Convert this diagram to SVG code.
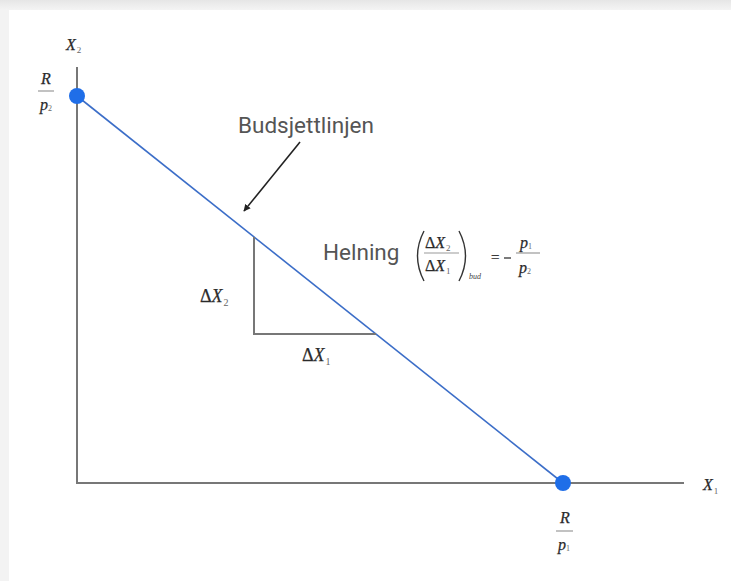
<svg xmlns="http://www.w3.org/2000/svg" width="731" height="581" viewBox="0 0 731 581">
<defs>
<linearGradient id="topg" x1="0" y1="0" x2="0" y2="1">
<stop offset="0" stop-color="#e6e6e6"/>
<stop offset="1" stop-color="#f4f4f4"/>
</linearGradient>
<marker id="ah" viewBox="0 0 10 10" refX="9" refY="5" markerWidth="7" markerHeight="7" orient="auto" markerUnits="userSpaceOnUse">
<path d="M0,0 L10,5 L0,10 z" fill="#222"/>
</marker>
<style>
.ax{stroke:#777;stroke-width:2;fill:none}
.tri{stroke:#777;stroke-width:2;fill:none}
.bl{stroke:#3c6ec8;stroke-width:1.6;fill:none}
.pt{fill:#1f6ee8}
.m{font-family:"Liberation Serif",serif;font-style:italic;fill:#2a2a2a;stroke:#2a2a2a;stroke-width:0.25}
.g{font-family:"Liberation Serif",serif;fill:#2a2a2a;stroke:#2a2a2a;stroke-width:0.25}
.i{font-style:italic}
.sub{font-style:normal;fill:#666;stroke:none}
.s{font-family:Roboto,"Liberation Sans",sans-serif;fill:#555}
.bar{stroke:#999;stroke-width:1.2}
</style>
</defs>
<rect x="0" y="0" width="731" height="581" fill="#f3f3f3"/>
<rect x="0" y="0" width="731" height="10" fill="url(#topg)"/>
<rect x="9" y="10" width="722" height="571" fill="#ffffff"/>

<g id="axes">
<line class="ax" x1="77" y1="67" x2="77" y2="484"/>
<line class="ax" x1="76" y1="483" x2="684" y2="483"/>
</g>

<g id="connectors">
<line class="bl" x1="77" y1="96" x2="563" y2="483"/>
<path class="tri" d="M254,237 L254,334 L376,334"/>
<line x1="300" y1="142" x2="244" y2="211" stroke="#222" stroke-width="1.6" marker-end="url(#ah)"/>
</g>

<g id="label-x2">
<text class="m" x="66" y="50" font-size="16">X<tspan class="sub" font-size="9" dy="3" dx="1">2</tspan></text>
</g>
<g id="label-x1">
<text class="m" x="703" y="490" font-size="16">X<tspan class="sub" font-size="9" dy="4" dx="1">1</tspan></text>
</g>

<g id="point-y">
<circle class="pt" cx="77" cy="96" r="8"/>
<text class="m" x="46" y="84" font-size="16" text-anchor="middle">R</text>
<line class="bar" x1="38" y1="91" x2="54" y2="91"/>
<text class="m" x="40" y="110" font-size="16">p<tspan class="sub" font-size="8" dy="1">2</tspan></text>
</g>

<g id="point-x">
<circle class="pt" cx="563" cy="483" r="8"/>
<text class="m" x="565" y="523" font-size="16" text-anchor="middle">R</text>
<line class="bar" x1="556" y1="531" x2="573" y2="531"/>
<text class="m" x="558" y="550" font-size="16">p<tspan class="sub" font-size="8" dy="1">1</tspan></text>
</g>

<g id="budsjett">
<text class="s" x="238" y="133" font-size="22.5">Budsjettlinjen</text>
</g>

<g id="dx2">
<text class="g" x="200" y="302" font-size="18">Δ<tspan class="i">X</tspan><tspan class="sub" font-size="10" dy="4" dx="1">2</tspan></text>
</g>
<g id="dx1">
<text class="g" x="302" y="361" font-size="18">Δ<tspan class="i">X</tspan><tspan class="sub" font-size="10" dy="4" dx="1">1</tspan></text>
</g>

<g id="helning">
<text class="s" x="323" y="260" font-size="22.5">Helning</text>
<path d="M424,231 Q411,256 424,281" stroke="#333" stroke-width="1.4" fill="none"/>
<path d="M459,231 Q472,256 459,281" stroke="#333" stroke-width="1.4" fill="none"/>
<text class="g" x="425" y="248" font-size="16">Δ<tspan class="i">X</tspan><tspan class="sub" font-size="9" dy="3" dx="1">2</tspan></text>
<line class="bar" x1="424" y1="253" x2="459" y2="253" stroke="#555"/>
<text class="g" x="425" y="271" font-size="16">Δ<tspan class="i">X</tspan><tspan class="sub" font-size="9" dy="3" dx="1">1</tspan></text>
<text class="m" x="469" y="279" font-size="8" style="stroke:none;fill:#444">bud</text>
<text class="g" x="491" y="262" font-size="15">=</text>
<line x1="504" y1="258" x2="511" y2="258" stroke="#333" stroke-width="1.3"/>
<text class="m" x="520" y="248" font-size="16">p<tspan class="sub" font-size="8" dy="1">1</tspan></text>
<line class="bar" x1="516" y1="253" x2="540" y2="253" stroke="#555"/>
<text class="m" x="519" y="273" font-size="16">p<tspan class="sub" font-size="8" dy="1">2</tspan></text>
</g>
</svg>
